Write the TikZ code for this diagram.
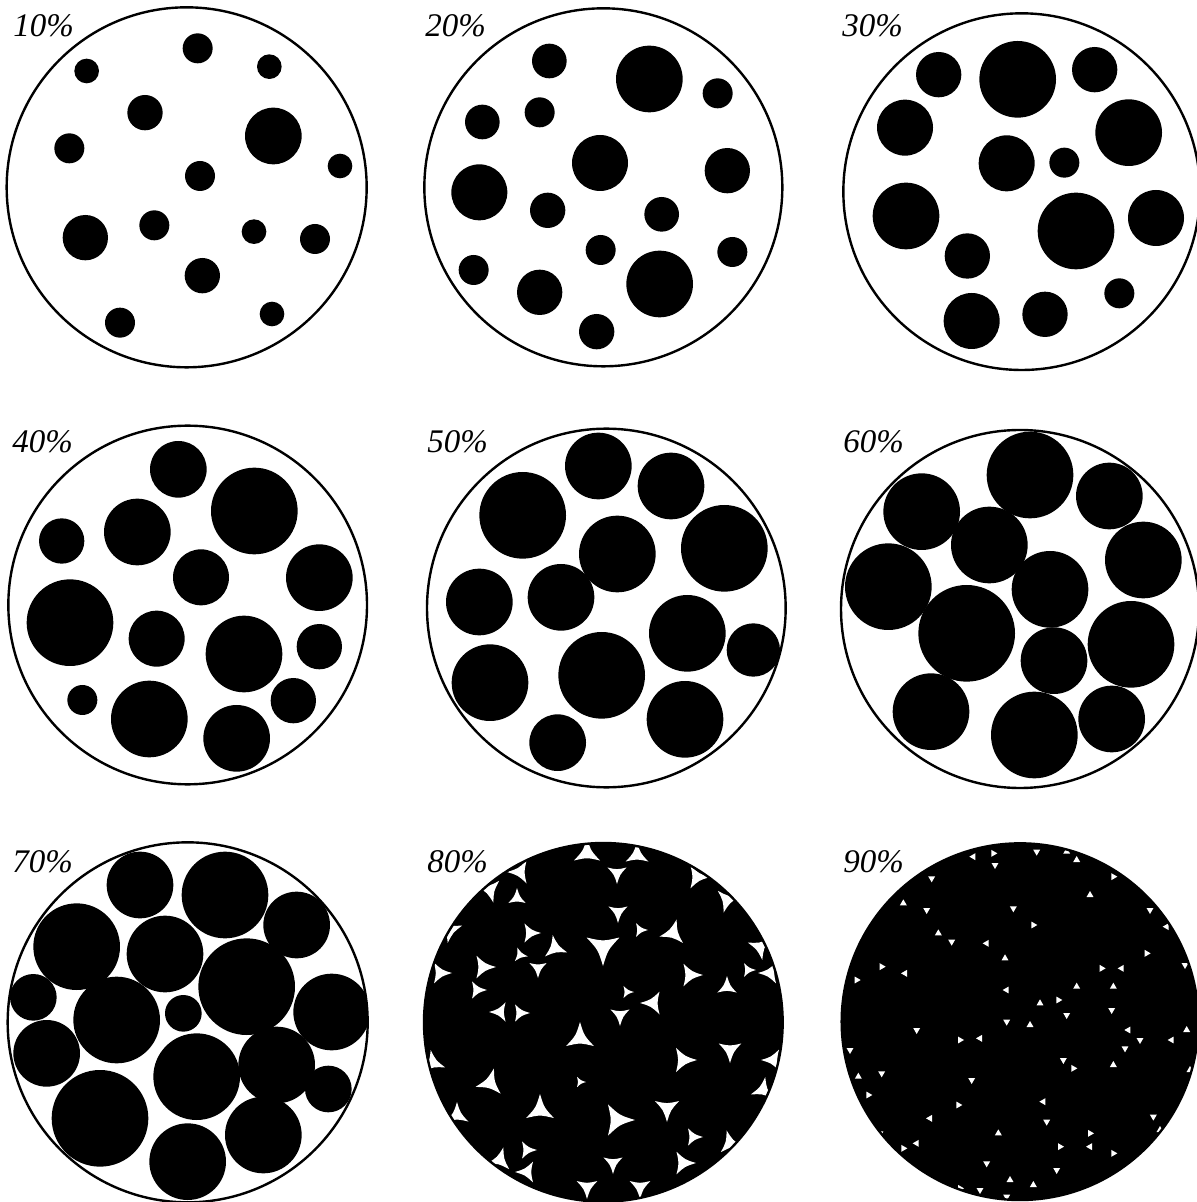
\documentclass[tikz,border=0pt]{standalone}
\usepackage{fontspec}
\setmainfont{Liberation Serif}
\begin{document}
\begin{tikzpicture}[x=0.5pt,y=-0.5pt,
  rim/.style={line width=1.2pt, draw=black},
  pct/.style={anchor=base west, inner sep=0pt, font=\fontsize{16.5}{17}\selectfont\itshape}]
\useasboundingbox (0,0) rectangle (1196,1202);
\fill[white] (0,0) rectangle (1196,1202);

% ---------- 10% ----------
\begin{scope}[shift={(0,0)},scale=1/3]
  \begin{scope}\clip (560,562) circle (540);
  \foreach \x/\y/\r in {593/145/45,260/213/37,808/200/37,435/338/53,820/408/85,208/445/45,1020/498/37,600/528/45,256/713/68,463/676/45,762/695/37,945/717/45,607/827/53,360/968/45,816/942/37}
    \fill (\x,\y) circle (\r);
  \end{scope}
  \draw[rim] (560,562) circle (540);
\end{scope}
\node[pct] (l10) at (13,37) {10\%};

% ---------- 20% ----------
\begin{scope}[shift={(400,0)},scale=1/3]
  \begin{scope}\clip (610,562) circle (537);
  \foreach \x/\y/\r in {448/183/52,748/237/100,953/280/45,247/366/52,419/337/45,600/489/84,982/512/68,238/577/84,443/631/53,785/643/52,602/750/45,997/756/45,221/810/45,419/877/68,779/852/100,590/995/53}
    \fill (\x,\y) circle (\r);
  \end{scope}
  \draw[rim] (610,562) circle (537);
\end{scope}
\node[pct] (l20) at (425,37) {20\%};

% ---------- 30% ----------
\begin{scope}[shift={(800,0)},scale=1/3]
  \begin{scope}\clip (665,575) circle (535);
  \foreach \x/\y/\r in {416/224/68,653/238/115,884/209/68,315/383/84,986/398/100,620/490/84,793/488/45,318/648/100,828/693/115,1068/654/84,502/768/68,958/880/45,515/963/84,735/943/68}
    \fill (\x,\y) circle (\r);
  \end{scope}
  \draw[rim] (665,575) circle (535);
\end{scope}
\node[pct] (l30) at (842,37) {30\%};

% ---------- 40% ----------
\begin{scope}[shift={(0,400)},scale=1/3]
  \begin{scope}\clip (563,615) circle (538);
  \foreach \x/\y/\r in {535/208/85,763/333/130,185/423/68,412/396/100,603/532/84,958/533/100,210/668/130,470/716/84,732/762/115,958/740/68,247/900/45,448/957/115,880/902/68,710/1015/100}
    \fill (\x,\y) circle (\r);
  \end{scope}
  \draw[rim] (563,615) circle (538);
\end{scope}
\node[pct] (l40) at (12,453) {40\%};

% ---------- 50% ----------
\begin{scope}[shift={(400,400)},scale=1/3]
  \begin{scope}\clip (619,624) circle (538);
  \foreach \x/\y/\r in {595/198/100,813/258/100,368/346/130,652/462/115,973/445/130,238/606/100,483/592/100,862/700/115,1060/750/80,270/848/115,605/826/130,855/958/115,473/1028/85}
    \fill (\x,\y) circle (\r);
  \end{scope}
  \draw[rim] (619,624) circle (538);
\end{scope}
\node[pct] (l50) at (427,453) {50\%};

% ---------- 60% ----------
\begin{scope}[shift={(800,400)},scale=1/3]
  \begin{scope}\clip (660,627) circle (537);
  \foreach \x/\y/\r in {690/225/130,928/288/100,365/335/115,568/435/115,1030/480/115,265/560/130,750/568/115,500/700/145,762/782/100,993/733/130,393/935/115,703/1005/130,935/957/100}
    \fill (\x,\y) circle (\r);
  \end{scope}
  \draw[rim] (660,627) circle (537);
\end{scope}
\node[pct] (l60) at (843,453) {60\%};

% ---------- 70% ----------
\begin{scope}[shift={(0,800)},scale=1/3]
  \begin{scope}\clip (563,667) circle (540);
  \foreach \x/\y/\r in {420/255/100,675/285/130,890/375/100,230/440/130,495/462/115,740/560/145,995/636/115,100/592/70,350/660/130,550/640/55,140/760/100,590/830/130,830/795/115,985/867/70,300/955/145,563/1085/115,790/1005/115}
    \fill (\x,\y) circle (\r);
  \end{scope}
  \draw[rim] (563,667) circle (540);
\end{scope}
\node[pct] (l70) at (12,872) {70\%};

% ---------- 80% ----------
\begin{scope}[shift={(400,800)},scale=1/3]
  \fill (610,667) circle (538);
\end{scope}
\begin{scope}
\clip[shift={(400,800)},scale=1/3] (610,667) circle (538);
\foreach \x/\y/\a/\s in {587/853/-90/15,637/855/-90/13,520/872/-60/13,490/890/-45/13,697/877/-120/13,727/900/-135/13,760/947/-160/13,450/930/-20/13,440/973/0/12,433/1063/20/13,457/1115/30/13,500/1160/45/13,527/1172/60/12,587/1187/90/12,640/1187/90/12,683/1163/120/13,730/1143/135/13,763/1090/160/13,773/1060/180/12,770/973/180/12,
  617/873/90/11,618/912/90/11,517/898/30/10,530/933/0/11,640/930/0/8,673/933/45/14,603/947/-30/19,555/948/20/13,520/955/10/8,538/968/90/10,690/975/0/13,727/987/-90/11,627/992/0/7,500/1012/60/11,520/1013/0/10,620/1015/90/11,653/1003/180/13,748/970/0/8,580/1038/-90/16,490/1083/45/15,580/1082/0/6,683/1060/0/14,730/1050/90/13,667/1108/-30/14,540/1110/30/16,617/1120/0/18,693/1137/0/10,527/1150/0/10,613/1163/90/11,483/967/0/13,477/990/0/10}
  {\begin{scope}[shift={(\x,\y)}]
     \fill[white] (\a:\s) .. controls ({\a+60}:{0.3*\s}) .. ({\a+120}:\s) .. controls ({\a+180}:{0.3*\s}) .. ({\a+240}:\s) .. controls ({\a+300}:{0.3*\s}) .. (\a:\s) -- cycle;
   \end{scope}}
\end{scope}
\begin{scope}[shift={(400,800)},scale=1/3]
  \draw[rim] (610,667) circle (538);
\end{scope}
\node[pct] (l80) at (427,872) {80\%};

% ---------- 90% ----------
\begin{scope}[shift={(800,800)},scale=1/3]
  \fill (660,665) circle (535);
  \foreach \x/\y/\a in {640/325/90,700/375/0,560/430/180,615/475/-90,380/330/90,415/400/-90,455/425/90,245/500/0,315/520/180,870/285/-90,1040/460/0,1155/495/90,1115/720/180,830/560/-90,775/600/0,800/645/90,620/665/90,690/675/-90,480/720/0,540/715/180,350/690/90,515/840/90,475/915/0,595/1000/-90,730/905/180,740/965/90,780/1040/0,770/1110/90,630/1140/-90,480/1165/0,540/1170/90,700/1155/-90,620/1190/90,310/1045/0,350/1030/180,245/820/90,175/830/-90,205/885/0,240/1000/90,390/955/180,790/780/90,820/805/0,940/795/-90,975/745/90,985/690/180,935/630/90,940/560/-90,905/505/0,1060/950/90,1080/990/-90,940/1060/0,870/1040/180,800/155/-90,710/155/90,580/160/0,520/170/180,395/235/90,310/310/-90,170/540/0,150/750/90,1170/810/-90,1100/380/180,1050/330/90,830/180/-90,940/230/0,965/505/180,1020/720/90,1160/690/-90,870/1000/0,585/195/90,620/570/180,720/610/-90,560/1090/90,240/1130/0,330/1160/180}
    \fill[white] (\x,\y) +(\a:12) -- +({\a+120}:12) -- +({\a+240}:12) -- cycle;
  \draw[rim] (660,665) circle (535);
\end{scope}
\node[pct] (l90) at (843,872) {90\%};
\end{tikzpicture}
\end{document}
